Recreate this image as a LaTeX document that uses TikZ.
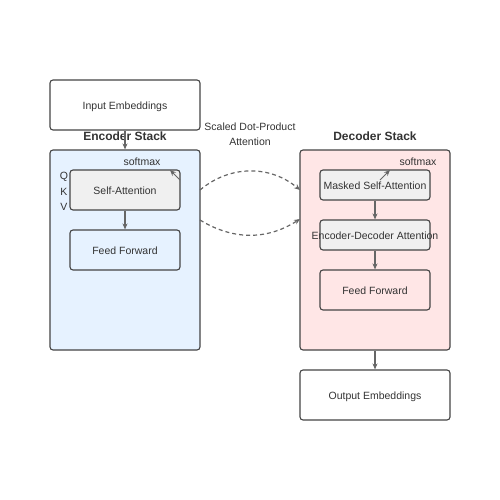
\documentclass[tikz,border=0pt]{standalone}
\usepackage{fontspec}
\setmainfont{Liberation Sans}
\usepackage{xcolor}
\usetikzlibrary{positioning,calc,arrows.meta}

\definecolor{encfill}{RGB}{230,242,255}
\definecolor{decfill}{RGB}{255,230,230}
\definecolor{layerfill}{RGB}{240,240,240}
\definecolor{edge}{RGB}{68,68,68}
\definecolor{arrowgray}{RGB}{102,102,102}
\definecolor{label}{RGB}{51,51,51}

\begin{document}
\begin{tikzpicture}[x=1pt, y=-1pt,
    box/.style={draw=edge, line width=1.1pt, rounded corners=3pt, inner sep=0pt, text=label, text height=9.5pt, text depth=0pt, font=\fontsize{10.5}{12}\selectfont},
    layer/.style={box, minimum width=110, minimum height=40},
    stack/.style={box, minimum width=150, minimum height=200},
    title/.style={text=label, font=\fontsize{12}{14}\selectfont\bfseries},
    small/.style={text=label, font=\fontsize{10.5}{15}\selectfont},
    arr/.style={-{Stealth[length=6pt,width=5pt]}, arrowgray, line width=1.2pt},
    attn/.style={arr, dashed, dash pattern=on 4pt off 3pt}]
    \useasboundingbox (0,0) rectangle (500,500);

    % Encoder
    \node [box, minimum width=150, minimum height=50] (inp) at (125,105) {Input Embeddings};
    \node [title] (enctitle) at (125,136.5) {Encoder Stack};
    \node [stack, fill=encfill] (enc) at (125,250) {};
    \node [small] (encsoft) at (142,161.5) {softmax};
    \node [layer, fill=layerfill] (sa) at (125,190) {Self-Attention};
    \node [layer] (encff) at (125,250) {Feed Forward};
    \node [small] (q) at (64,177) {Q};
    \node [small] (k) at (64,192) {K};
    \node [small] (v) at (64,207) {V};

    % Decoder
    \node [title] (dectitle) at (375,136.5) {Decoder Stack};
    \node [stack, fill=decfill] (dec) at (375,250) {};
    \node [small] (decsoft) at (418,161.5) {softmax};
    \node [layer, fill=layerfill, minimum height=30] (msa) at (375,185) {Masked Self-Attention};
    \node [layer, fill=layerfill, minimum height=30] (eda) at (375,235) {\makebox[0pt]{Encoder-Decoder Attention}};
    \node [layer] (decff) at (375,290) {Feed Forward};
    \node [box, minimum width=150, minimum height=50] (out) at (375,395) {Output Embeddings};

    % Flow
    \draw [arr] (inp) -- (enc);
    \draw [arr] (sa) -- (encff);
    \draw [arr] (msa) -- (eda);
    \draw [arr] (eda) -- (decff);
    \draw [arr] (dec) -- (out);

    % softmax
    \coordinate (encs1) at (180,180);
    \coordinate (encs2) at (170,170);
    \draw [arr, line width=1pt] (encs1) -- (encs2);
    \coordinate (decs1) at (380,180);
    \coordinate (decs2) at (390,170);
    \draw [arr, line width=1pt] (decs1) -- (decs2);

    % Cross attention
    \coordinate (e1) at (200,190);
    \coordinate (d1) at (300,190);
    \coordinate (e2) at (200,220);
    \coordinate (d2) at (300,219);
    \draw [attn] (e1) to [bend left=40] (d1);
    \draw [attn] (e2) to [bend right=32] (d2);
    \node [small, align=center] (sdpa) at (250,134) {Scaled Dot-Product\\Attention};
\end{tikzpicture}
\end{document}
